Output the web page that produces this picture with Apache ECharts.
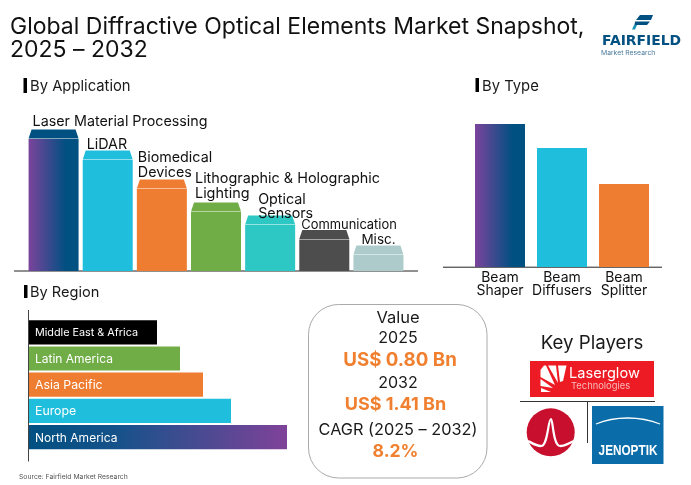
<!DOCTYPE html>
<html><head><meta charset="utf-8">
<style>html,body{margin:0;padding:0;background:#fff}#c{width:691px;height:485px}</style>
<script src="https://cdn.jsdelivr.net/npm/echarts@6/dist/echarts.min.js"></script>
</head><body><div id="c"></div>
<script>
const titleText = "Global Diffractive Optical Elements Market Snapshot,\n2025 \u2013 2032";
const appCategories = ["Laser Material Processing","LiDAR","Biomedical\nDevices","Lithographic & Holographic\nLighting","Optical\nSensors","Communication","Misc."];
const appValues = [132,111,82,59,46,31.5,16];
const typeCategories = ["Beam\nShaper","Beam\nDiffusers","Beam\nSplitter"];
const typeValues = [143,119,83];
const regionCategories = ["North America","Europe","Asia Pacific","Latin America","Middle East & Africa"];
const regionValues = [258,202,174,151,128];

const FONT = "Inter, 'Noto Sans', sans-serif";
const purpleBlue = {type:'linear',x:0,y:0,x2:1,y2:0,colorStops:[{offset:0,color:'#7B439B'},{offset:0.75,color:'#005082'},{offset:1,color:'#005082'}]};
const bluePurple = {type:'linear',x:0,y:0,x2:1,y2:0,colorStops:[{offset:0,color:'#005082'},{offset:0.35,color:'#17528A'},{offset:1,color:'#7F4299'}]};
const appColors = [purpleBlue,'#1FBEDC','#EF7D31','#70AD47','#2EC8C4','#4D4D4D','#AECBCB'];
const appCapColors = ['#005082','#1FBEDC','#EF7D31','#70AD47','#2EC8C4','#4D4D4D','#AECBCB'];
const appLabelLayout = [[4,-1,14.3,14.5],[4,0.5,14.3,14.5],[1,-0.5,14.3,14.5],[4,-2.5,14.4,14.5],[13,4,14.3,13.5],[2,1.5,12.9,14.5],[8,1.5,13.5,14.5]];
const typeColors = [purpleBlue,'#1FBEDC','#EF7D31'];
const regionColors = [bluePurple,'#1FBEDC','#EF7D31','#70AD47','#000000'];
const regionLabelSizes = [12,12.3,12.3,12,10.8];

function txt(x,y,t,size,o){return {type:'text',x,y,silent:true,style:Object.assign({text:t,fontFamily:FONT,fontSize:size,fill:'#1a1a1a',textAlign:'left',textVerticalAlign:'middle'},o||{})};}
function rect(x,y,w,h,fill,extra){return Object.assign({type:'rect',silent:true,shape:{x,y,width:w,height:h},style:{fill}},extra||{});}
function line(a,b,c,d,col,w){return {type:'line',silent:true,shape:{x1:a,y1:b,x2:c,y2:d},style:{stroke:col||'#222',lineWidth:w||1}};}
function poly(p,fill){return {type:'polygon',silent:true,shape:{points:p},style:{fill}};}
function curve(a,b,c1,c2,c3,c4,c,d,col,w){return {type:'bezierCurve',silent:true,shape:{x1:a,y1:b,cpx1:c1,cpy1:c2,cpx2:c3,cpy2:c4,x2:c,y2:d},style:{fill:'none',stroke:col,lineWidth:w}};}

const graphics = [
  txt(10,38.5,titleText,23,{lineHeight:23.5,fill:'#111'}),
  rect(23.5,78,3.5,15,'#000'), txt(30,86.8,"By Application",14.8),
  rect(475.5,78,3.5,14,'#000'), txt(482,86.8,"By Type",14.8),
  rect(24,285,3.5,13,'#000'), txt(30,292.8,"By Region",14.6),
  line(14,271,418,271,'#222',1),
  line(443,267.2,662,267.2,'#222',1),
  line(28.5,310,28.5,461.5,'#444',1),
  txt(19,476.5,"Source: Fairfield Market Research",6.8,{fill:'#555'}),
  // value card
  {type:'rect',silent:true,shape:{x:308.5,y:304.5,width:178.5,height:173.5,r:30},style:{fill:'#fff',stroke:'#aaa',lineWidth:1}},
  txt(398,318,"Value",16.5,{textAlign:'center'}),
  txt(398,338.5,"2025",16,{textAlign:'center'}),
  txt(400,360,"US$ 0.80 Bn",18.7,{textAlign:'center',fill:'#F0802F',fontWeight:'bold'}),
  txt(398,383,"2032",16,{textAlign:'center'}),
  txt(395.5,405,"US$ 1.41 Bn",18,{textAlign:'center',fill:'#F0802F',fontWeight:'bold'}),
  txt(398,430,"CAGR (2025 \u2013 2032)",16.3,{textAlign:'center'}),
  txt(395.5,452,"8.2%",17.6,{textAlign:'center',fill:'#F0802F',fontWeight:'bold'}),
  // key players
  txt(592,343,"Key Players",18.7,{textAlign:'center'}),
  rect(530,361,124,36,'#ED1C24'),
  poly([[551,392],[541,392],[541,388]],'#fff'),
  poly([[553,388],[540.5,386],[540.5,379]],'#fff'),
  poly([[555,385],[540.5,377],[540.5,370],[544,365.5],[546,365.5]],'#fff'),
  poly([[558,383],[548,365.5],[556,365.5]],'#fff'),
  poly([[560,382],[558,365.5],[566.5,365.5],[563,381]],'#fff'),
  txt(569,374,"Laserglow",14.6,{fill:'#fff'}),
  txt(571,386,"Technologies",9.4,{fill:'#F7B9B9'}),
  line(520,401.5,655,401.5,'#333',1),
  line(587.5,402,587.5,443,'#333',1),
  {type:'circle',silent:true,shape:{cx:550.7,cy:432.3,r:24},style:{fill:'#C8102E'}},
  curve(528,441,532,443,536,446,541,446,'#fff',2.4),
  curve(541,446,548,446,548,419,551,419,'#fff',2.2),
  curve(551,419,553,419,553,446,560,446,'#fff',2.2),
  curve(560,446,565,446,569,443,574,441,'#fff',2.4),
  rect(592,406,71.5,58,'#0A6DAA'),
  curve(596,424,615,416,640,416,660,424,'#fff',1.3),
  Object.assign(txt(628,451,"JENOPTIK",14,{textAlign:'center',fill:'#fff',fontWeight:'bold',fontFamily:"'Liberation Sans', sans-serif"}),{scaleX:0.84}),
  // Fairfield logo
  poly([[640,15],[653,15],[651,20],[636,20]],'#005082'),
  poly([[635,21.5],[650,21.5],[647,25],[634.5,25]],'#005082'),
  poly([[634,25],[637,25],[635,29.5],[632,29.5]],'#1793B5'),
  txt(602,41,"FAIRFIELD",13.9,{fill:'#005082',fontWeight:'bold',fontFamily:"'DejaVu Sans', sans-serif"}),
  txt(601,52.5,"Market Research",6.8,{fill:'#4a7a9c'})
];

const option = {
  animation:false,
  backgroundColor:'#fff',
  textStyle:{fontFamily:FONT},
  grid:[
    {left:26.5,top:71,width:379,height:200},
    {left:469,top:67,width:186,height:200},
    {left:29,top:319.2,width:300,height:131}
  ],
  xAxis:[
    {gridIndex:0,type:'category',data:appCategories,axisLine:{show:false},axisTick:{show:false},axisLabel:{show:false}},
    {gridIndex:1,type:'category',data:typeCategories,axisLine:{show:false},axisTick:{show:false},
      axisLabel:{color:'#111',fontSize:14,lineHeight:12.5,margin:5,fontFamily:FONT,interval:0}},
    {gridIndex:2,type:'value',min:0,max:300,show:false}
  ],
  yAxis:[
    {gridIndex:0,type:'value',min:0,max:200,show:false},
    {gridIndex:1,type:'value',min:0,max:200,show:false},
    {gridIndex:2,type:'category',data:regionCategories,axisLine:{show:false},axisTick:{show:false},axisLabel:{show:false}}
  ],
  series:[
    {type:'custom',xAxisIndex:0,yAxisIndex:0,data:appValues,clip:false,
     renderItem(params,api){
       const i=params.dataIndex, base=api.coord([i,0]), top=api.coord([i,api.value(1)]);
       const w=50, x0=base[0]-w/2, capH=9;
       const L=appLabelLayout[i];
       return {type:'group',children:[
         {type:'polygon',shape:{points:[[x0,top[1]-0.6],[x0+3,top[1]-capH-0.6],[x0+w-3,top[1]-capH-0.6],[x0+w,top[1]-0.6]]},style:{fill:appCapColors[i]}},
         {type:'rect',shape:{x:x0,y:top[1],width:w,height:base[1]-top[1]},style:{fill:appColors[i]}},
         {type:'text',x:x0+L[0],y:top[1]-capH+L[1],style:{text:appCategories[i],fontFamily:FONT,fontSize:L[2],lineHeight:L[3],fill:'#111',textAlign:'left',textVerticalAlign:'bottom'}}
       ]};
     }},
    {type:'bar',xAxisIndex:1,yAxisIndex:1,barWidth:50,
     data:typeValues.map((v,i)=>({value:v,itemStyle:{color:typeColors[i]}}))},
    {type:'bar',xAxisIndex:2,yAxisIndex:2,barWidth:24.2,
     data:regionValues.map((v,i)=>({value:v,itemStyle:{color:regionColors[i]},label:{fontSize:regionLabelSizes[i]}})),
     label:{show:true,position:'insideLeft',distance:6,offset:[0,0.8],formatter:'{b}',color:'#fff',fontFamily:FONT}}
  ],
  graphic:{elements:graphics}
};
echarts.init(document.getElementById('c'),null,{renderer:'canvas'}).setOption(option);
</script></body></html>
